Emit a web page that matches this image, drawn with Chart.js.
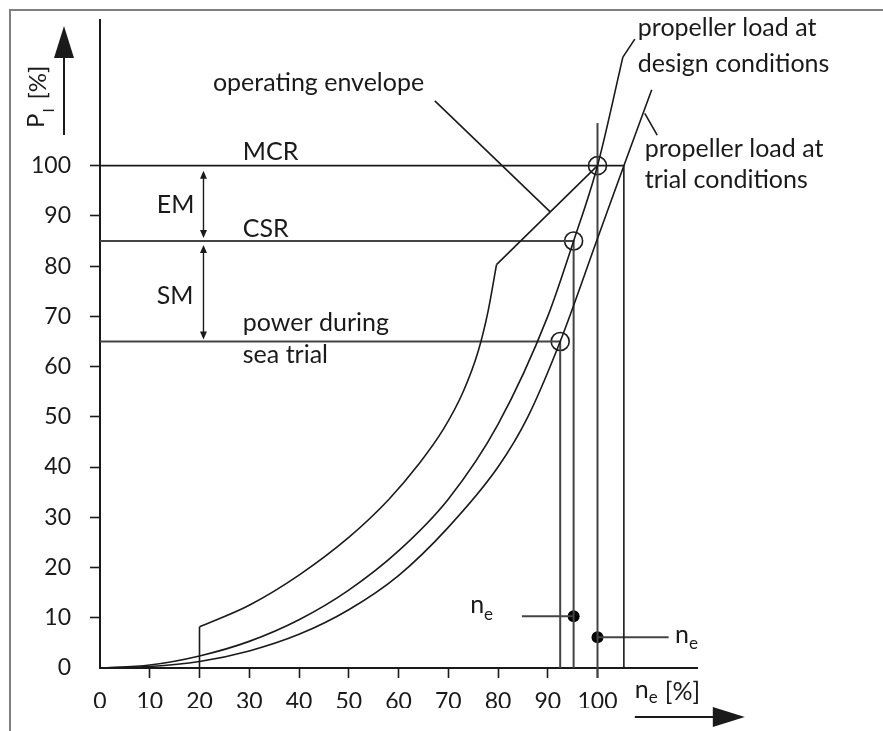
<!DOCTYPE html>
<html>
<head>
<meta charset="utf-8">
<script src="https://cdn.jsdelivr.net/npm/chart.js@4.4.1/dist/chart.umd.min.js"></script>
<style>
  html, body { margin: 0; padding: 0; background: #fff; }
  canvas { display: block; }
</style>
</head>
<body>
<canvas id="powerChart" width="883" height="731"></canvas>
<script>
// engine speed n_e [%] against power P_I [%]
const speedTicks = [0, 10, 20, 30, 40, 50, 60, 70, 80, 90, 100];
const powerTicks = [0, 10, 20, 30, 40, 50, 60, 70, 80, 90, 100];

// propeller load at design conditions
const designSpeed = [0, 10, 20, 30, 40, 50, 60, 70, 80, 90, 95.2, 100, 105.1];
const designPower = [0, 0.6, 2.4, 5.3, 9.6, 15.5, 23.3, 33.6, 48.5, 70, 85, 100, 121.6];

// propeller load at trial conditions
const trialSpeed = [0, 10, 20, 30, 40, 50, 60, 70, 80, 86, 92.5, 100, 105.3, 110.9];
const trialPower = [0, 0.3, 1.3, 3.4, 6.7, 11.6, 18.4, 28, 40, 50, 65, 85.5, 100, 115.1];

// operating envelope (curved part), then straight to MCR
const envelopeSpeed = [20, 30, 40, 50, 58, 64, 69, 73, 76, 78, 79.7];
const envelopePower = [8.2, 12.5, 18.5, 26, 33.5, 40.5, 47.5, 55, 63, 71, 80.3];
const mcrPoint = [100, 100];

// MCR, CSR and sea trial levels
const levelPower = [100, 85, 65];
const levelCornerSpeed = [105.3, 95.2, 92.5];
const levelPointSpeed = [100, 95.2, 92.5];

const ratedSpeedLine = [108.5, -2];

// n_e markers
const neSpeed = [95.2, 100];
const nePower = [10.3, 6.1];
const neLineEnd = [84.8, 114.3];

const ink = '#1a1a1a';
const font = 'Lato, "Open Sans", sans-serif';

function pts(xs, ys) {
  return xs.map((v, i) => ({ x: v, y: ys[i] }));
}

function lineSet(data, extra) {
  return Object.assign({
    data,
    showLine: true,
    borderColor: ink,
    borderWidth: 1.6,
    pointRadius: 0,
    fill: false,
    clip: false
  }, extra || {});
}

const datasets = [
  lineSet(pts(designSpeed, designPower), { cubicInterpolationMode: 'monotone' }),
  lineSet(pts(trialSpeed, trialPower), { cubicInterpolationMode: 'monotone' }),
  lineSet([{ x: envelopeSpeed[0], y: 0 }, { x: envelopeSpeed[0], y: envelopePower[0] }]),
  lineSet(pts(envelopeSpeed, envelopePower), { cubicInterpolationMode: 'monotone' }),
  lineSet([{ x: envelopeSpeed[envelopeSpeed.length - 1], y: envelopePower[envelopePower.length - 1] },
           { x: mcrPoint[0], y: mcrPoint[1] }]),
  lineSet([{ x: levelPointSpeed[0], y: ratedSpeedLine[0] }, { x: levelPointSpeed[0], y: ratedSpeedLine[1] }],
          { borderColor: '#444', borderWidth: 2 })
];

levelPower.forEach((p, i) => {
  datasets.push(lineSet([{ x: 0, y: p }, { x: levelCornerSpeed[i], y: p }, { x: levelCornerSpeed[i], y: 0 }],
    { borderColor: i === 0 ? ink : '#444', borderWidth: i === 0 ? 1.6 : 2 }));
});

neSpeed.forEach((n, i) => {
  datasets.push(lineSet([{ x: n, y: nePower[i] }, { x: neLineEnd[i], y: nePower[i] }],
    { borderColor: '#444', borderWidth: 2 }));
});

datasets.push({
  data: pts(levelPointSpeed, levelPower),
  showLine: false,
  pointRadius: 9,
  pointBorderWidth: 1.6,
  pointBorderColor: ink,
  pointBackgroundColor: 'rgba(0,0,0,0)',
  clip: false
});

datasets.push({
  data: pts(neSpeed, nePower),
  showLine: false,
  pointRadius: 6,
  pointBorderWidth: 0,
  pointBackgroundColor: '#000',
  clip: false
});

const annotate = {
  id: 'annotate',
  afterDraw(chart) {
    const { ctx, chartArea } = chart;
    const xs = chart.scales.x, ys = chart.scales.y;
    const X = v => xs.getPixelForValue(v);
    const Y = v => ys.getPixelForValue(v);

    ctx.save();

    // picture frame
    ctx.strokeStyle = '#808080';
    ctx.lineWidth = 2;
    ctx.beginPath();
    ctx.moveTo(10, chart.height);
    ctx.lineTo(10, 10);
    ctx.lineTo(chart.width, 10);
    ctx.stroke();

    const big = '25px ' + font;
    ctx.fillStyle = ink;
    ctx.strokeStyle = ink;
    ctx.lineWidth = 1.6;
    ctx.textAlign = 'left';
    ctx.textBaseline = 'alphabetic';
    ctx.font = big;

    const text = (t, px, py) => ctx.fillText(t, px, py);
    const sub = (t, s, px, py, drop) => {
      ctx.font = big;
      ctx.fillText(t, px, py);
      const w = ctx.measureText(t).width;
      ctx.font = '17px ' + font;
      ctx.fillText(s, px + w, py + (drop || 6));
      ctx.font = big;
      return w + ctx.measureText(s).width;
    };
    const seg = (x1, y1, x2, y2) => {
      ctx.beginPath();
      ctx.moveTo(x1, y1);
      ctx.lineTo(x2, y2);
      ctx.stroke();
    };
    const head = (tx, ty, dir, len, half) => {
      ctx.beginPath();
      if (dir === 'up') {
        ctx.moveTo(tx, ty); ctx.lineTo(tx - half, ty + len); ctx.lineTo(tx + half, ty + len);
      } else if (dir === 'down') {
        ctx.moveTo(tx, ty); ctx.lineTo(tx - half, ty - len); ctx.lineTo(tx + half, ty - len);
      } else {
        ctx.moveTo(tx, ty); ctx.lineTo(tx - len, ty - half); ctx.lineTo(tx - len, ty + half);
      }
      ctx.closePath();
      ctx.fill();
    };

    // level labels
    text('MCR', X(28.7), Y(100) - 6);
    text('CSR', X(28.7), Y(85) - 4);
    text('power during', X(28.7), Y(65) - 10);
    text('sea trial', X(28.7), Y(65) + 22);
    ctx.textBaseline = 'middle';
    text('EM', X(11.4), Y(92.5) + 2);
    text('SM', X(11.4), Y(75) + 5);
    ctx.textBaseline = 'alphabetic';

    // margin arrows
    const ax = X(20.8);
    ctx.lineWidth = 1.4;
    seg(ax, Y(100) + 8, ax, Y(85) - 8);
    head(ax, Y(100) + 5, 'up', 8, 3.5);
    head(ax, Y(85) - 3, 'down', 8, 3.5);
    seg(ax, Y(85) + 8, ax, Y(65) - 8);
    head(ax, Y(85) + 4, 'up', 8, 3.5);
    head(ax, Y(65) - 2, 'down', 8, 3.5);

    // operating envelope label and leader
    ctx.lineWidth = 1.6;
    text('operating envelope', X(22.7), Y(114.9));
    seg(X(67.3), Y(112.9), X(90.5), Y(90.8));

    // propeller curve labels and hooks
    text('propeller load at', X(108.1), Y(125.8));
    text('design conditions', X(108.1), Y(118.7));
    seg(X(105.1), Y(121.6), X(107.5), Y(125.2));
    text('propeller load at', X(109.5), Y(101.8));
    text('trial conditions', X(109.5), Y(95.5));
    seg(X(109.5), Y(110.4), X(112), Y(106.1));

    // n_e labels
    sub('n', 'e', X(74.4), Y(10.9), 7);
    sub('n', 'e', X(115.6), Y(5), 6);

    // axis titles and arrows
    const bx = X(107.5);
    sub('n', 'e', bx, chartArea.bottom + 30, 5);
    text('[%]', bx + 30, chartArea.bottom + 32);
    ctx.lineWidth = 2;
    seg(bx, chartArea.bottom + 49, bx + 80, chartArea.bottom + 49);
    head(bx + 110, chartArea.bottom + 49, 'right', 32, 10);

    const lx = chartArea.left - 36;
    seg(lx, chartArea.top + 115, lx, chartArea.top + 34);
    head(lx, chartArea.top + 6, 'up', 32, 10);

    ctx.save();
    ctx.translate(chartArea.left - 56, chartArea.top + 108);
    ctx.rotate(-Math.PI / 2);
    ctx.font = '24px ' + font;
    ctx.fillText('P', 0, 0);
    const pw = ctx.measureText('P').width;
    ctx.font = '15px ' + font;
    ctx.fillText('I', pw + 1, 10);
    ctx.font = '24px ' + font;
    ctx.fillText('[%]', pw + 14, 2);
    ctx.restore();

    ctx.restore();
  }
};

new Chart(document.getElementById('powerChart'), {
  type: 'scatter',
  data: { datasets },
  options: {
    responsive: false,
    animation: false,
    layout: { padding: { top: 20, right: 186, bottom: 23, left: 0 } },
    plugins: { legend: { display: false }, tooltip: { enabled: false } },
    scales: {
      x: {
        type: 'linear',
        min: 0,
        max: 120,
        afterBuildTicks: s => { s.ticks = speedTicks.map(v => ({ value: v })); },
        afterFit: s => { s.height = 40; s.paddingLeft = 0; s.paddingRight = 0; },
        ticks: {
          color: ink,
          padding: 10,
          maxRotation: 0,
          autoSkip: false,
          font: { family: font, size: 23 }
        },
        grid: {
          drawOnChartArea: false,
          drawTicks: true,
          tickLength: 10,
          tickWidth: 1.6,
          tickColor: c => (c.tick && c.tick.value === 0 ? 'rgba(0,0,0,0)' : ink)
        },
        border: { display: true, color: ink, width: 2 }
      },
      y: {
        type: 'linear',
        min: 0,
        max: 129,
        afterBuildTicks: s => { s.ticks = powerTicks.map(v => ({ value: v })); },
        afterFit: s => { s.width = 100; s.paddingTop = 0; s.paddingBottom = 0; },
        ticks: {
          color: ink,
          padding: 19,
          autoSkip: false,
          font: { family: font, size: 23 }
        },
        grid: {
          drawOnChartArea: false,
          drawTicks: true,
          tickLength: 10,
          tickWidth: 1.6,
          tickColor: c => (c.tick && c.tick.value === 0 ? 'rgba(0,0,0,0)' : ink)
        },
        border: { display: true, color: ink, width: 2 }
      }
    }
  },
  plugins: [annotate]
});
</script>
</body>
</html>
